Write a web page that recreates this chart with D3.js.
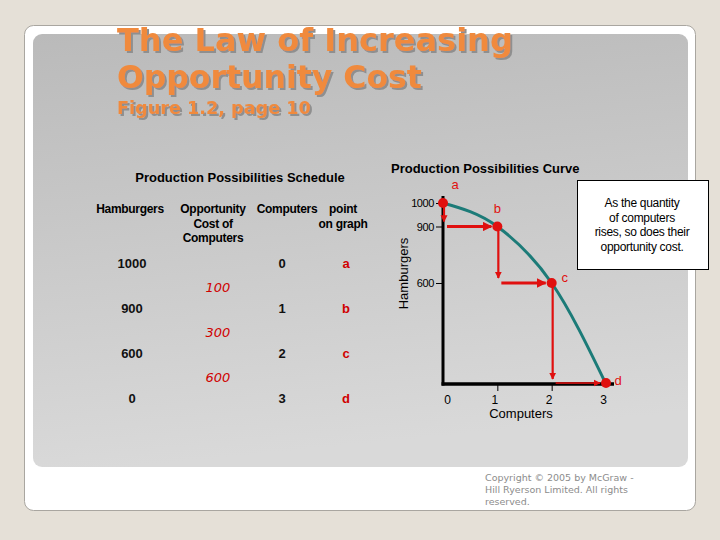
<!DOCTYPE html>
<html>
<head>
<meta charset="utf-8">
<script src="https://cdn.jsdelivr.net/npm/d3@7"></script>
<style>
  html, body { margin: 0; padding: 0; background: #e5e0d7; }
  svg { display: block; }
</style>
</head>
<body>
<div id="chart"></div>
<script>
const width = 720;
const height = 540;

// schedule data
const hamburgers = [1000, 900, 600, 0];
const computers = [0, 1, 2, 3];
const pointLabels = ["a", "b", "c", "d"];
const opportunityCost = [100, 300, 600];

// axis ticks
const yTicks = [1000, 900, 600];
const xTicks = [0, 1, 2, 3];

const noteLines = ["As the quantity", "of computers", "rises, so does their", "opportunity cost."];
const copyLines = ["Copyright © 2005 by McGraw -", "Hill Ryerson Limited. All rights", "reserved."];

const red = "#e0100f";

const svg = d3
  .select("#chart")
  .append("svg")
  .attr("width", width)
  .attr("height", height);

const defs = svg.append("defs");

const grad = defs
  .append("linearGradient")
  .attr("id", "panel")
  .attr("x1", 0)
  .attr("y1", 0)
  .attr("x2", 0.15)
  .attr("y2", 1);
grad.append("stop").attr("offset", "0%").attr("stop-color", "#bababa");
grad.append("stop").attr("offset", "100%").attr("stop-color", "#d9d9d9");

defs
  .append("filter")
  .attr("id", "shadow")
  .attr("x", "-5%")
  .attr("y", "-20%")
  .attr("width", "110%")
  .attr("height", "140%")
  .append("feDropShadow")
  .attr("dx", 2)
  .attr("dy", 2)
  .attr("stdDeviation", 0.6)
  .attr("flood-color", "#8f8f8f")
  .attr("flood-opacity", 1);

defs
  .append("marker")
  .attr("id", "arrow")
  .attr("viewBox", "0 0 10 10")
  .attr("refX", 9)
  .attr("refY", 5)
  .attr("markerWidth", 3.2)
  .attr("markerHeight", 3.2)
  .attr("markerUnits", "strokeWidth")
  .attr("orient", "auto")
  .append("path")
  .attr("d", "M0,0 L10,5 L0,10 Z")
  .attr("fill", red);

// card and panel
svg
  .append("rect")
  .attr("x", 24.5)
  .attr("y", 25.5)
  .attr("width", 671)
  .attr("height", 485)
  .attr("rx", 9)
  .attr("fill", "#ffffff")
  .attr("stroke", "#a9a6a0");

svg
  .append("rect")
  .attr("x", 33)
  .attr("y", 34)
  .attr("width", 655)
  .attr("height", 433)
  .attr("rx", 9)
  .attr("fill", "url(#panel)");

// title, shadow done with a filter
function titleText(txt, y, size, target) {
  const t = svg
    .append("text")
    .attr("x", 117)
    .attr("y", y)
    .attr("fill", "#f08a3c")
    .attr("filter", "url(#shadow)")
    .style("font", `bold ${size}px 'DejaVu Sans'`)
    .text(txt);
  const w = t.node().getComputedTextLength();
  t.style("font-size", `${(size * target) / w}px`);
}
titleText("The Law of Increasing", 51, 30, 396);
titleText("Opportunity Cost", 88, 30, 305);
titleText("Figure 1.2, page 10", 114, 17, 194);

// ---------- schedule table ----------
const colX = { ham: 132, opp: 218, comp: 282, pt: 346 };

svg
  .append("text")
  .attr("x", 240)
  .attr("y", 182)
  .attr("text-anchor", "middle")
  .style("font", "bold 13px 'Liberation Sans'")
  .text("Production Possibilities Schedule");

const headers = [
  { x: 130, lines: ["Hamburgers"] },
  { x: 213, lines: ["Opportunity", "Cost of", "Computers"] },
  { x: 287, lines: ["Computers"] },
  { x: 343, lines: ["point", "on graph"] },
];
headers.forEach((h) => {
  h.lines.forEach((l, i) => {
    svg
      .append("text")
      .attr("x", h.x)
      .attr("y", 213 + i * 14.5)
      .attr("text-anchor", "middle")
      .style("font", "bold 12px 'Liberation Sans'")
      .style("letter-spacing", "-0.3px")
      .text(l);
  });
});

const rowY = d3.scaleLinear().domain([0, 3]).range([268, 403]);

const rows = svg
  .selectAll("g.row")
  .data(hamburgers)
  .enter()
  .append("g")
  .attr("class", "row")
  .style("font", "bold 13px 'Liberation Sans'");

rows
  .append("text")
  .attr("x", colX.ham)
  .attr("y", (d, i) => rowY(i))
  .attr("text-anchor", "middle")
  .attr("fill", "#111")
  .text((d) => d);

rows
  .append("text")
  .attr("x", colX.comp)
  .attr("y", (d, i) => rowY(i))
  .attr("text-anchor", "middle")
  .attr("fill", "#111")
  .text((d, i) => computers[i]);

rows
  .append("text")
  .attr("x", colX.pt)
  .attr("y", (d, i) => rowY(i))
  .attr("text-anchor", "middle")
  .attr("fill", "#d00000")
  .text((d, i) => pointLabels[i]);

svg
  .selectAll("text.opp")
  .data(opportunityCost)
  .enter()
  .append("text")
  .attr("class", "opp")
  .attr("x", colX.opp)
  .attr("y", (d, i) => rowY(i + 0.5) + 1)
  .attr("text-anchor", "middle")
  .attr("fill", "#d00000")
  .style("font", "italic 13px 'DejaVu Sans'")
  .text((d) => d);

// ---------- PPC chart ----------
const xScale = d3.scaleLinear().domain([0, 3]).range([443, 606]);
// original figure is not drawn to scale, so the y scale is piecewise
const yScale = d3
  .scaleLinear()
  .domain([0, 600, 900, 1000])
  .range([384, 283, 226.5, 203]);

svg
  .append("text")
  .attr("x", 391)
  .attr("y", 173)
  .style("font", "bold 13px 'Liberation Sans'")
  .text("Production Possibilities Curve");

// axes lines
svg
  .append("line")
  .attr("x1", xScale(0))
  .attr("x2", xScale(0))
  .attr("y1", yScale(1000) - 7)
  .attr("y2", yScale(0) + 1.5)
  .attr("stroke", "#000")
  .attr("stroke-width", 3);

svg
  .append("line")
  .attr("x1", xScale(0) - 1.5)
  .attr("x2", xScale(3) + 8)
  .attr("y1", yScale(0))
  .attr("y2", yScale(0))
  .attr("stroke", "#000")
  .attr("stroke-width", 3.5);

// y ticks
const yAxis = d3
  .axisLeft(yScale)
  .tickValues(yTicks)
  .tickSize(6)
  .tickPadding(2)
  .tickFormat((d) => d);
const yg = svg
  .append("g")
  .attr("transform", `translate(${xScale(0) - 1},0)`)
  .call(yAxis);
yg.select(".domain").remove();
yg.selectAll("text")
  .style("font", "11px 'Liberation Sans'")
  .style("letter-spacing", "-0.4px")
  .attr("dy", "0.35em")
  .attr("fill", "#000");

// x ticks
const xAxis = d3
  .axisBottom(xScale)
  .tickValues(xTicks)
  .tickSize(6)
  .tickPadding(4)
  .tickFormat((d) => d);
const xg = svg
  .append("g")
  .attr("transform", `translate(0,${yScale(0) + 1})`)
  .call(xAxis);
xg.select(".domain").remove();
xg.selectAll(".tick line").filter((d) => d === 0 || d === 3).remove();
xg.selectAll("text")
  .style("font", "12px 'Liberation Sans'")
  .attr("fill", "#000")
  .attr("dx", (d) => (d === 0 ? 4 : -3));

svg
  .append("text")
  .attr("x", 521)
  .attr("y", 418)
  .attr("text-anchor", "middle")
  .style("font", "13px 'Liberation Sans'")
  .text("Computers");

svg
  .append("text")
  .attr("transform", `translate(408,${(yScale(1000) + yScale(0)) / 2 - 20}) rotate(-90)`)
  .attr("text-anchor", "middle")
  .style("font", "13px 'Liberation Sans'")
  .text("Hamburgers");

// curve
const pts = computers.map((c, i) => [xScale(c), yScale(hamburgers[i])]);
const line = d3.line().curve(d3.curveMonotoneX);
svg
  .append("path")
  .attr("d", line(pts))
  .attr("fill", "none")
  .attr("stroke", "#1c7b78")
  .attr("stroke-width", 3);

// step arrows
for (let i = 0; i < computers.length - 1; i++) {
  const x0 = xScale(computers[i]);
  const x1 = xScale(computers[i + 1]);
  const y0 = yScale(hamburgers[i]);
  const y1 = yScale(hamburgers[i + 1]);
  svg
    .append("line")
    .attr("x1", x0 + 1)
    .attr("x2", x0 + 1)
    .attr("y1", y0 + 4)
    .attr("y2", y1 - 5)
    .attr("stroke", red)
    .attr("stroke-width", 2.2)
    .attr("marker-end", "url(#arrow)");
  svg
    .append("line")
    .attr("x1", x0 + 4)
    .attr("x2", x1 - 6)
    .attr("y1", y1 + (i === 2 ? -1 : 0))
    .attr("y2", y1 + (i === 2 ? -1 : 0))
    .attr("stroke", i === 2 ? "#b01010" : red)
    .attr("stroke-width", i === 2 ? 2.2 : 3)
    .attr("marker-end", "url(#arrow)");
}

// points
svg
  .selectAll("circle.pt")
  .data(pts)
  .enter()
  .append("circle")
  .attr("class", "pt")
  .attr("cx", (d) => d[0])
  .attr("cy", (d, i) => d[1] - (i === 3 ? 1 : 0))
  .attr("r", 5)
  .attr("fill", red);

const labelOffsets = [
  [12, -14],
  [0, -14],
  [13, -1],
  [12, 1],
];
svg
  .selectAll("text.ptl")
  .data(pts)
  .enter()
  .append("text")
  .attr("class", "ptl")
  .attr("x", (d, i) => d[0] + labelOffsets[i][0])
  .attr("y", (d, i) => d[1] + labelOffsets[i][1])
  .attr("text-anchor", "middle")
  .attr("fill", red)
  .style("font", "13px 'Liberation Sans'")
  .text((d, i) => pointLabels[i]);

// note box
svg
  .append("rect")
  .attr("x", 577.5)
  .attr("y", 180.5)
  .attr("width", 131)
  .attr("height", 89)
  .attr("fill", "#fff")
  .attr("stroke", "#000");

noteLines.forEach((l, i) => {
  svg
    .append("text")
    .attr("x", 642)
    .attr("y", 207 + i * 14.5)
    .attr("text-anchor", "middle")
    .style("font", "12px 'Liberation Sans'")
    .style("letter-spacing", "-0.3px")
    .text(l);
});

// copyright
copyLines.forEach((l, i) => {
  svg
    .append("text")
    .attr("x", 485)
    .attr("y", 481 + i * 12)
    .attr("fill", "#8c8c8c")
    .style("font", "9.5px 'DejaVu Sans'")
    .text(l);
});
</script>
</body>
</html>
